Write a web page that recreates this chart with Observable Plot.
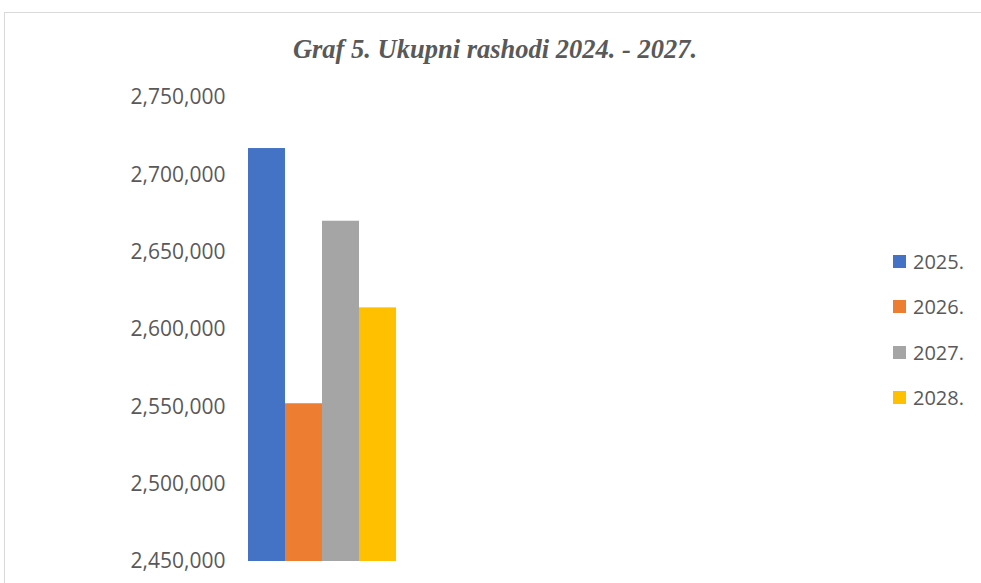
<!DOCTYPE html>
<html>
<head>
<meta charset="utf-8">
<script src="https://cdn.jsdelivr.net/npm/d3@7"></script>
<script src="https://cdn.jsdelivr.net/npm/@observablehq/plot@0.6"></script>
<style>
  html, body { margin: 0; padding: 0; background: #fff; }
  #wrap { position: relative; width: 981px; height: 583px; overflow: hidden; }
  #border { position: absolute; left: 4px; top: 12px; width: 1000px; height: 600px; border: 1px solid #d9d9d9; box-sizing: border-box; }
  #title { position: absolute; left: 0; width: 990px; top: 34px; text-align: center;
    font-family: "Liberation Serif", serif; font-weight: bold; font-style: italic; font-size: 26.5px; color: #595959; }
  #chart { position: absolute; left: 0; top: 80px; }
  #legend { position: absolute; left: 893px; top: 239px; font-family: "Open Sans", sans-serif; font-size: 20px; color: #595959; }
  .item { display: flex; align-items: center; height: 45.3px; }
  .sw { width: 13px; height: 13px; margin-right: 7px; }
</style>
</head>
<body>
<div id="wrap">
  <div id="border"></div>
  <div id="title"></div>
  <div id="chart"></div>
  <div id="legend"></div>
</div>
<script>
const titleText = "Graf 5. Ukupni rashodi 2024. - 2027.";
const series = ["2025.", "2026.", "2027.", "2028."];
const values = [2717000, 2552000, 2670000, 2614000];
const colors = ["#4472c4", "#ed7d31", "#a5a5a5", "#ffc000"];
const yTicks = [2450000, 2500000, 2550000, 2600000, 2650000, 2700000, 2750000];
const yMin = 2450000;
const yMax = 2750000;

const data = series.map((s, i) => ({series: s, value: values[i]}));

document.getElementById("title").textContent = titleText;

const chart = Plot.plot({
  width: 981,
  height: 500,
  marginLeft: 247,
  marginRight: 584,
  marginTop: 17,
  marginBottom: 19,
  style: {fontFamily: "'Open Sans', sans-serif", fontSize: "21px", color: "#595959", background: "transparent"},
  x: {domain: series, padding: 0, axis: null},
  y: {domain: [yMin, yMax], ticks: yTicks, tickFormat: d3.format(","), tickSize: 0, tickPadding: 22, label: null},
  color: {domain: series, range: colors},
  marks: [
    Plot.barY(data, {x: "series", y1: yMin, y2: "value", fill: "series", inset: 0})
  ]
});
document.getElementById("chart").appendChild(chart);

const legend = document.getElementById("legend");
series.forEach((s, i) => {
  const item = document.createElement("div");
  item.className = "item";
  const sw = document.createElement("div");
  sw.className = "sw";
  sw.style.background = colors[i];
  const t = document.createElement("span");
  t.textContent = s;
  item.appendChild(sw);
  item.appendChild(t);
  legend.appendChild(item);
});
</script>
</body>
</html>
